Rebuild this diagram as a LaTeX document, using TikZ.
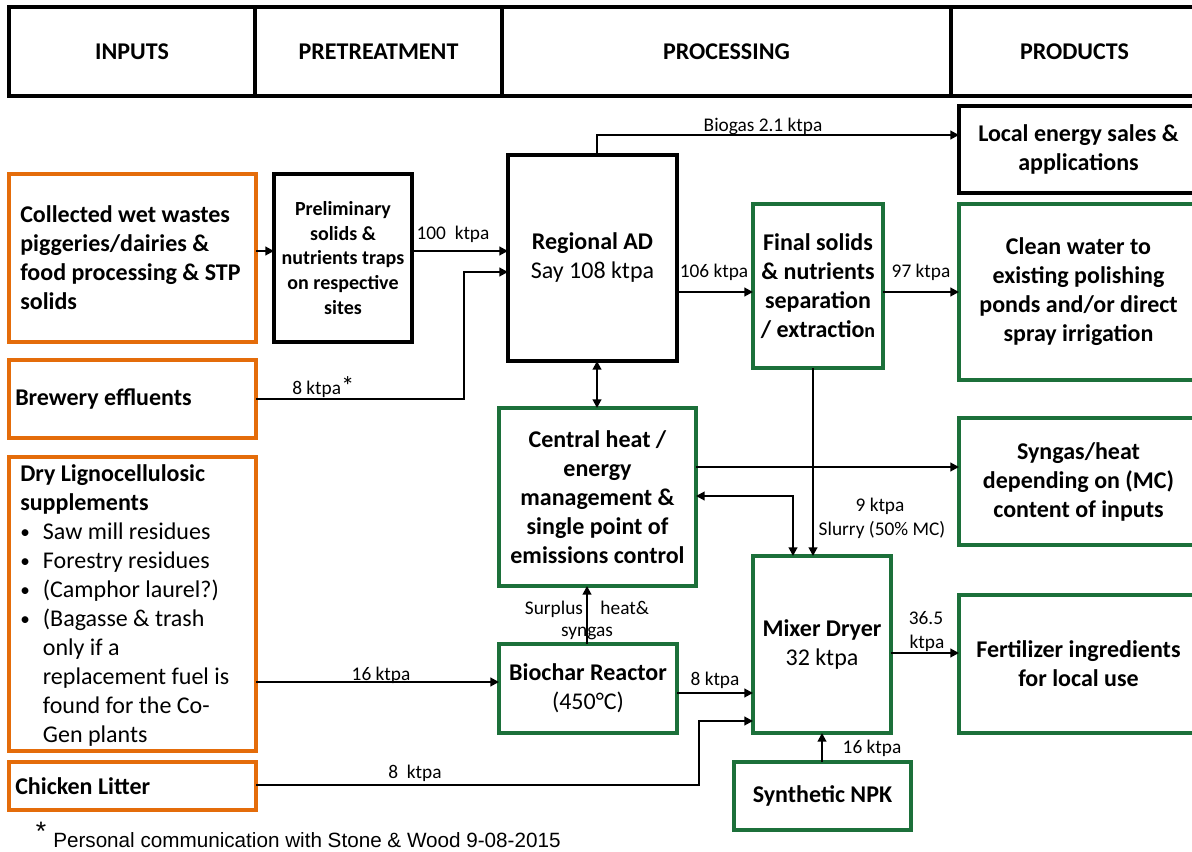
\documentclass[tikz,border=0pt]{standalone}
\usepackage{fontspec}
\setmainfont{Carlito}
\newfontfamily\notefont{Liberation Sans}
\usetikzlibrary{arrows.meta}

\definecolor{inorange}{RGB}{228,108,10}
\definecolor{procgreen}{RGB}{28,112,58}

\newcommand\cellfont{\fontsize{18}{21.75}\selectfont\bfseries}
\newcommand\prelfont{\fontsize{15}{18.4}\selectfont\bfseries}
\newcommand\flowfont{\fontsize{14.5}{18}\selectfont}
\newcommand\bul{\makebox[17pt][l]{\raisebox{1pt}{\scalebox{0.8}{\textbullet}}}}
\newcommand\ind{\hspace*{17pt}}

\tikzset{
  % a box given by its corners (left, top, right, bottom) in picture units
  area/.style n args={4}{minimum width={(#3-#1)*0.75pt}, minimum height={(#4-#2)*0.75pt},
    at={({(#1+#3)/2},{(#2+#4)/2})}},
  box/.style={draw, line width=2.4pt, inner sep=0pt, outer sep=0pt, align=center, font=\cellfont},
  blackbox/.style={box, draw=black},
  inbox/.style={box, draw=inorange},
  greenbox/.style={box, draw=procgreen},
  txt/.style={inner sep=0pt, font=\cellfont},
  flow/.style={inner sep=0pt, font=\flowfont},
  arr/.style={line width=1.5pt, -{Triangle[length=6.5pt,width=6.5pt]}},
  darr/.style={line width=1.5pt, {Triangle[length=6.5pt,width=6.5pt]}-{Triangle[length=6.5pt,width=6.5pt]}}
}

\begin{document}
\begin{tikzpicture}[x=0.75pt,y=-0.75pt]
\useasboundingbox (0,0) rectangle (1192,852);
\clip (0,0) rectangle (1192,852);

% column headings
\node[blackbox, area={9}{7}{255}{96}]    (hin)   {INPUTS};
\node[blackbox, area={255}{7}{502}{96}]  (hpre)  {PRETREATMENT};
\node[blackbox, area={502}{7}{951}{96}]  (hproc) {PROCESSING};
\node[blackbox, area={951}{7}{1198}{96}] (hprod) {PRODUCTS};

% inputs
\node[inbox, area={9}{174}{256}{342}] (wet) {};
\node[txt, anchor=west, align=left] (wetT) at (20,257.5)
  {Collected wet wastes\\piggeries/dairies \&\\food processing \& STP\\solids};
\node[inbox, area={9}{360}{256}{438}] (brew) {};
\node[txt, anchor=west] (brewT) at (15,399) {Brewery effluents};
\node[inbox, area={9}{457}{256}{751}] (dry) {};
\node[txt, anchor=west, align=left, font=\fontsize{18}{21.75}\selectfont] (dryT) at (20,606)
  {\textbf{Dry Lignocellulosic}\\\textbf{supplements}\\\bul Saw mill residues\\\bul Forestry residues\\\bul (Camphor laurel?)\\\bul (Bagasse \& trash\\\ind only if a\\\ind replacement fuel is\\\ind found for the Co-\\\ind Gen plants};
\node[inbox, area={9}{762}{256}{810}] (chick) {};
\node[txt, anchor=west] (chickT) at (15,786) {Chicken Litter};

% pretreatment
\node[blackbox, font=\prelfont, area={274}{174}{412}{342}] (prel)
  {Preliminary\\solids \&\\nutrients traps\\on respective\\sites};

% processing
\node[blackbox, area={508}{155}{677}{361}] (ad)
  {Regional AD\\{\mdseries Say 108 ktpa}};
\node[greenbox, area={753}{204}{883}{368}] (sep)
  {Final solids\\\& nutrients\\separation\\/ extractio{\fontsize{15}{18}\selectfont n}};
\node[greenbox, area={499}{408}{696}{586}] (heat)
  {Central heat /\\energy\\management \&\\single point of\\emissions control};
\node[greenbox, area={499}{644}{677}{733}] (char)
  {Biochar Reactor\\{\mdseries (450°C)}};
\node[greenbox, area={753}{556}{891}{733}] (mix)
  {Mixer Dryer\\{\mdseries 32 ktpa}};
\node[greenbox, area={734}{762}{911}{830}] (npk) {Synthetic NPK};

% products
\node[blackbox, area={959}{106}{1198}{193}] (energy)
  {Local energy sales \&\\applications};
\node[greenbox, area={959}{204}{1198}{380}] (water)
  {Clean water to\\existing polishing\\ponds and/or direct\\spray irrigation};
\node[greenbox, area={959}{418}{1198}{545}] (syngas)
  {Syngas/heat\\depending on (MC)\\content of inputs};
\node[greenbox, area={959}{595}{1198}{733}] (fert)
  {Fertilizer ingredients\\for local use};

% flows
\draw[arr] (wet.east |- 0,251) -- (prel.west |- 0,251);
\draw[arr] (prel.east |- 0,251) -- (ad.west |- 0,251);
\node[flow] (f100) at (453,234) {100\ \ ktpa};

\draw[arr] (brew.east |- 0,399) -- (464,399) |- (ad.west |- 0,272);
\node[flow, anchor=base west] (f8b) at (292,394) {8 ktpa\raisebox{-1pt}{\fontsize{20}{20}\selectfont *}};

\draw[arr] (ad.north -| 597,0) |- (energy.west |- 0,135);
\node[flow] (fbio) at (763,126) {Biogas 2.1 ktpa};

\draw[arr] (ad.east |- 0,292) -- (sep.west |- 0,292);
\node[flow] (f106) at (714,272) {106 ktpa};
\draw[arr] (sep.east |- 0,292) -- (water.west |- 0,292);
\node[flow] (f97) at (921,272) {97 ktpa};

\draw[darr] (ad.south -| 597,0) -- (heat.north -| 597,0);
\draw[arr] (heat.east |- 0,467) -- (syngas.west |- 0,467);
\draw[darr] (heat.east |- 0,496) -| (mix.north -| 793,0);

\draw[arr] (sep.south -| 813,0) -- (mix.north -| 813,0);
\node[flow] (f9) at (880,506) {9 ktpa};
\node[flow] (fslurry) at (882,530) {Slurry (50\% MC)};

\draw[arr] (char.north -| 587,0) -- (heat.south -| 587,0);
\node[flow] (fsur) at (587,609) {Surplus\ \ \ \ heat\&};
\node[flow] (fsyn) at (587,633) {syngas};

\draw[arr] (dry.east |- 0,682) -- (char.west |- 0,682);
\node[flow] (f16a) at (381,675) {16 ktpa};
\draw[arr] (char.east |- 0,693) -- (mix.west |- 0,693);
\node[flow] (f8c) at (715,680) {8 ktpa};

\draw[arr] (chick.east |- 0,785) -- (699,785) |- (mix.west |- 0,721);
\node[flow] (f8d) at (415,773) {8\ \ ktpa};

\draw[arr] (npk.north -| 822,0) -- (mix.south -| 822,0);
\node[flow] (f16b) at (872,748) {16 ktpa};

\draw[arr] (mix.east |- 0,653) -- (fert.west |- 0,653);
\node[flow] (f365) at (926,618) {36.5};
\node[flow] (fktpa) at (927,643) {ktpa};

% footnote
\node[inner sep=0pt, font=\notefont\fontsize{20}{20}\selectfont] (star) at (41,831) {*};
\node[inner sep=0pt, anchor=west, font=\notefont\fontsize{15.5}{18}\selectfont] (note) at (53,840)
  {Personal communication with Stone \& Wood 9-08-2015};
\end{tikzpicture}
\end{document}
